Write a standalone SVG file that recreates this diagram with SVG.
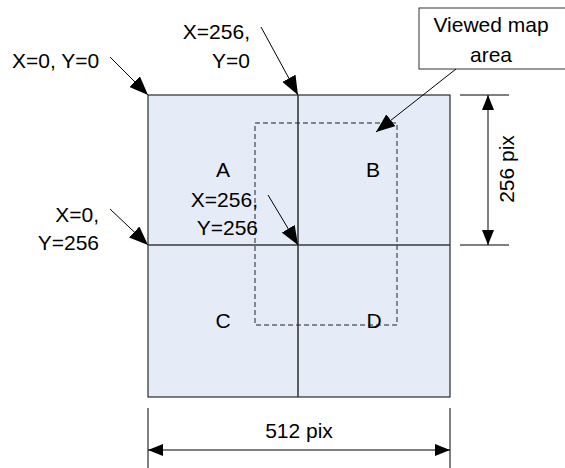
<svg xmlns="http://www.w3.org/2000/svg" width="565" height="468" viewBox="0 0 565 468">
<style>
text{font-family:"Liberation Sans",Arial,sans-serif;font-size:21px;fill:#000}
.c{text-anchor:middle}
.r{text-anchor:end}
.ln{stroke:#000;stroke-width:1;fill:none}
.mid{stroke:#3a3a3a;stroke-width:1.6;fill:none}
.dash{stroke:#222;stroke-width:1;stroke-dasharray:5,3;fill:none}
</style>
<defs>
<marker id="ah" markerUnits="userSpaceOnUse" markerWidth="19" markerHeight="15" viewBox="0 0 19 15" refX="19" refY="7.5" orient="auto">
<path d="M0,0 L19,7.5 L0,15 Z" fill="#000"/>
</marker>
<marker id="dh" markerUnits="userSpaceOnUse" markerWidth="15" markerHeight="12" viewBox="0 0 15 12" refX="15" refY="6" orient="auto">
<path d="M0,0 L15,6 L0,12 Z" fill="#000"/>
</marker>
<marker id="as" markerUnits="userSpaceOnUse" markerWidth="15" markerHeight="12" viewBox="0 0 15 12" refX="0" refY="6" orient="auto">
<path d="M15,0 L0,6 L15,12 Z" fill="#000"/>
</marker>
</defs>
<g id="map">
<rect x="148" y="95" width="302" height="302" fill="#E6ECF7" stroke="#000" stroke-width="1"/>
<line class="mid" x1="298" y1="95" x2="298" y2="397"/>
<line class="mid" x1="148" y1="245" x2="450" y2="245"/>
<text class="c" x="223" y="177">A</text>
<text class="c" x="373" y="177">B</text>
<text class="c" x="223" y="328">C</text>
<text class="c" x="374" y="328">D</text>
</g>
<g id="viewed-area">
<rect class="dash" x="255" y="123" width="142" height="202"/>
</g>
<g id="callout">
<rect x="419" y="8" width="150" height="61" fill="#fff" stroke="#333" stroke-width="1"/>
<text class="c" x="491" y="32">Viewed map</text>
<text class="c" x="491" y="62">area</text>
</g>
<g id="labels">
<text x="12" y="68">X=0, Y=0</text>
<text class="r" x="250" y="39">X=256,</text>
<text class="r" x="250" y="68">Y=0</text>
<text class="r" x="258" y="207">X=256,</text>
<text class="r" x="258" y="235">Y=256</text>
<text class="r" x="99" y="222">X=0,</text>
<text class="r" x="99" y="250">Y=256</text>
<text class="c" x="299" y="438">512 pix</text>
<text class="c" transform="translate(514,169) rotate(-90)">256 pix</text>
</g>
<g id="connectors">
<line class="ln" x1="110" y1="57" x2="148" y2="95" marker-end="url(#ah)"/>
<line class="ln" x1="261" y1="27" x2="298" y2="95" marker-end="url(#ah)"/>
<line class="ln" x1="110" y1="209" x2="148" y2="245" marker-end="url(#ah)"/>
<line class="ln" x1="268" y1="195" x2="298" y2="245" marker-end="url(#ah)"/>
<line class="ln" x1="456" y1="69" x2="376" y2="132" marker-end="url(#ah)"/>
<line class="ln" x1="460" y1="95" x2="509" y2="95"/>
<line class="ln" x1="460" y1="245" x2="509" y2="245"/>
<line class="ln" x1="488" y1="95" x2="488" y2="245" marker-start="url(#as)" marker-end="url(#dh)"/>
<line class="ln" x1="148" y1="408" x2="148" y2="468"/>
<line class="ln" x1="450" y1="408" x2="450" y2="468"/>
<line class="ln" x1="148" y1="450" x2="450" y2="450" marker-start="url(#as)" marker-end="url(#dh)"/>
</g>
</svg>
